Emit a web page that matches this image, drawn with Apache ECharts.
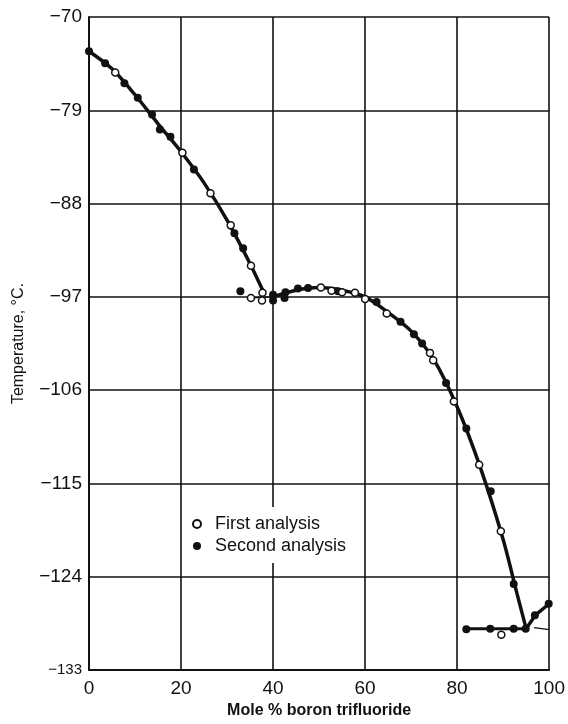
<!DOCTYPE html>
<html>
<head>
<meta charset="utf-8">
<script src="https://cdn.jsdelivr.net/npm/echarts@6/dist/echarts.min.js"></script>
<style>
  html, body { margin: 0; padding: 0; background: #fff; }
  #chart { width: 568px; height: 724px; }
</style>
</head>
<body>
<div id="chart"></div>
<script>
// Freezing-point diagram: temperature vs. mole % boron trifluoride

const xTicks = [0, 20, 40, 60, 80, 100];
const yTicks = [-133, -124, -115, -106, -97, -88, -79, -70];

// Measured points [mole % BF3, temperature °C]
const firstAnalysis = [
  [5.7, -75.35], [20.3, -83.1], [26.4, -87.0], [30.8, -90.1], [35.2, -94.0],
  [37.7, -96.6], [35.2, -97.1], [37.6, -97.35], [50.4, -96.1], [52.7, -96.4],
  [55.0, -96.55], [57.8, -96.6], [60.0, -97.2], [64.7, -98.6], [74.1, -102.4],
  [74.8, -103.1], [79.3, -107.1], [84.8, -113.2], [89.5, -119.6], [89.6, -129.6]
];
const secondAnalysis = [
  [0, -73.3], [3.5, -74.45], [7.7, -76.4], [10.6, -77.8], [13.7, -79.4],
  [15.4, -80.85], [17.7, -81.55], [22.8, -84.7], [31.6, -90.85], [33.5, -92.3],
  [32.9, -96.45], [40.0, -96.8], [40.0, -97.35], [42.7, -96.55], [42.5, -97.1],
  [45.4, -96.2], [47.6, -96.15], [54.1, -96.45], [62.5, -97.5], [67.7, -99.4],
  [70.6, -100.6], [72.4, -101.5], [77.6, -105.3], [82.0, -109.7], [87.3, -115.75],
  [92.3, -124.7], [82.0, -129.05], [87.2, -129.0], [92.3, -129.0], [94.9, -129.0],
  [96.9, -127.7], [99.9, -126.6]
];

// Drawn curves through the points
const leftBranch = [
  [0, -73.3], [5, -75.0], [10, -77.5], [15, -80.3], [20, -83.0],
  [25, -86.0], [30, -89.6], [35, -93.8], [38, -96.6]
];
const middleJoin = [[34.5, -97.1], [40, -97.0]];
const middleBranch = [
  [40, -97.0], [45, -96.35], [50, -96.1], [55, -96.35], [60, -97.0],
  [65, -98.5], [70, -100.3], [75, -103.1], [80, -107.6], [85, -113.4],
  [90, -120.4], [93, -125.6], [95, -129.0]
];
const rightBranch = [[95, -129.0], [97, -127.7], [100, -126.6]];
const eutecticLine = [[82, -129.0], [95, -129.0]];
const eutecticTail = [[96.7, -128.9], [100, -129.1]];

const ink = '#111';
const font = 'Liberation Sans, Arial, sans-serif';

function curve(data, width, smooth) {
  return {
    type: 'line', data: data, smooth: smooth,
    showSymbol: false, symbol: 'none', silent: true,
    lineStyle: { color: ink, width: width }, z: 3
  };
}

const chart = echarts.init(document.getElementById('chart'), null, { renderer: 'canvas' });
chart.setOption({
  backgroundColor: '#fff',
  animation: false,
  grid: { left: 89, right: 12, top: 17, bottom: 51 },
  xAxis: {
    type: 'value', min: 0, max: 100, interval: 20,
    name: 'Mole % boron trifluoride', nameLocation: 'middle', nameGap: 29,
    nameTextStyle: { color: ink, fontFamily: font, fontSize: 16, fontWeight: 'bold' },
    axisLine: { show: true, lineStyle: { color: ink, width: 2 } },
    axisTick: { show: false },
    axisLabel: {
      color: ink, fontFamily: font, fontSize: 19, margin: 9,
      formatter: v => xTicks.includes(v) ? String(v) : ''
    },
    splitLine: { show: true, lineStyle: { color: ink, width: 1.6 } }
  },
  yAxis: {
    type: 'value', min: yTicks[0], max: yTicks[yTicks.length - 1],
    name: 'Temperature, °C.', nameLocation: 'middle', nameGap: 62, nameRotate: 90,
    nameTextStyle: { color: ink, fontFamily: font, fontSize: 16 },
    axisLine: { show: true, lineStyle: { color: ink, width: 2 } },
    axisTick: { show: false, customValues: yTicks },
    axisLabel: {
      customValues: yTicks, margin: 7,
      formatter: v => (v === yTicks[0] ? '{s|' : '{n|') + '\u2212' + Math.abs(v) + '}',
      rich: {
        n: { color: ink, fontFamily: font, fontSize: 19 },
        s: { color: ink, fontFamily: font, fontSize: 15 }
      }
    },
    splitLine: { show: true, lineStyle: { color: ink, width: 1.6 } }
  },
  legend: {
    orient: 'vertical', left: 192, top: 507,
    padding: [8, 10, 8, 0], itemGap: 4,
    itemWidth: 26, itemHeight: 8, icon: 'circle',
    backgroundColor: '#fff',
    textStyle: { color: ink, fontFamily: font, fontSize: 18 },
    data: ['First analysis', 'Second analysis']
  },
  series: [
    curve(leftBranch, 3.5, 0.3),
    curve(middleJoin, 1.4, false),
    curve(middleBranch, 3.5, 0.3),
    curve(rightBranch, 3.5, false),
    curve(eutecticLine, 3, false),
    curve(eutecticTail, 1.2, false),
    {
      name: 'First analysis', type: 'scatter', data: firstAnalysis,
      symbol: 'circle', symbolSize: 7, z: 5,
      itemStyle: { color: '#fff', borderColor: ink, borderWidth: 1.5, opacity: 1 }
    },
    {
      name: 'Second analysis', type: 'scatter', data: secondAnalysis,
      symbol: 'circle', symbolSize: 8, z: 4,
      itemStyle: { color: ink, opacity: 1 }
    }
  ]
});
</script>
</body>
</html>
